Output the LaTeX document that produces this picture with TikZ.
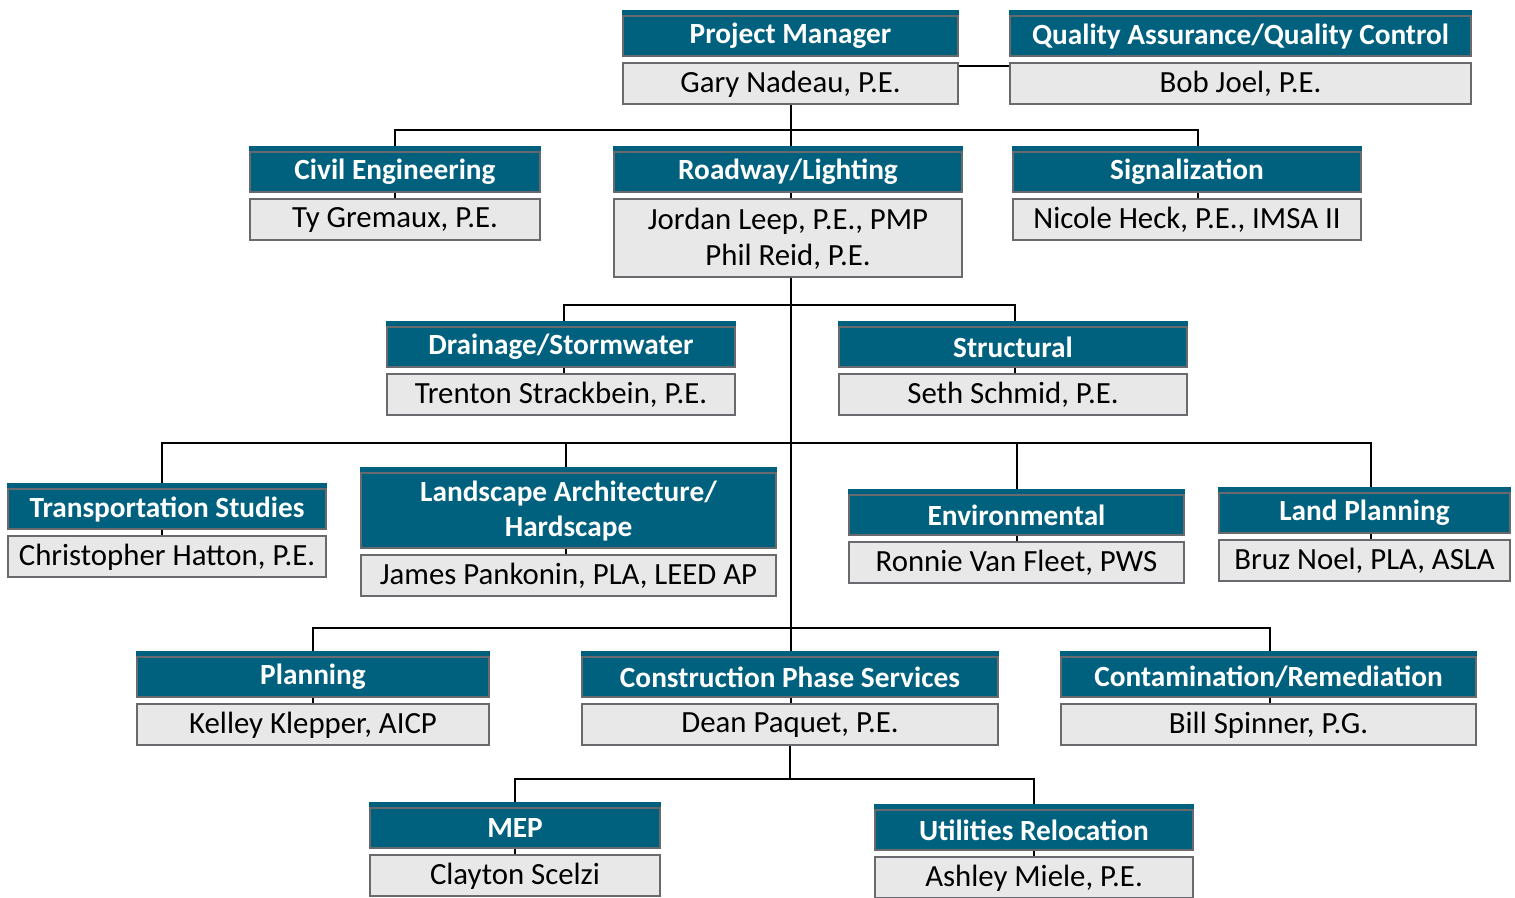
\documentclass[tikz,border=0pt]{standalone}
\usepackage{fontspec}
\setmainfont{Carlito}
\usetikzlibrary{positioning, backgrounds}
\definecolor{headteal}{RGB}{0,97,127}
\definecolor{boxgray}{RGB}{105,106,110}
\definecolor{namefill}{RGB}{232,232,232}
\tikzset{
  head/.style = {draw=boxgray, line width=2.2pt, fill=headteal, text=white,
    font=\bfseries\fontsize{29.3}{35}\selectfont, inner sep=0pt,
    minimum height=40pt, align=center, anchor=north},
  person/.style = {draw=boxgray, line width=2.2pt, fill=namefill,
    font=\fontsize{30.8}{36}\selectfont, inner sep=0pt,
    minimum height=41pt, align=center},
  link/.style = {draw=black, line width=2pt}
}

\begin{document}
\begin{tikzpicture}[x=1pt, y=-1pt]
    \useasboundingbox (0,0) rectangle (1515,897);

    % top row
    \node [head, minimum width=335] (pmh) at (790.5,15) {Project Manager};
    \node [person, minimum width=335, below=5pt of pmh] (pmp) {Gary Nadeau, P.E.};
    \node [head, minimum width=461] (qah) at (1240.5,15) {Quality Assurance/Quality Control};
    \node [person, minimum width=461, below=5pt of qah] (qap) {Bob Joel, P.E.};

    % second row
    \node [head, minimum width=290] (civh) at (395,151) {Civil Engineering};
    \node [person, minimum width=290, below=5pt of civh] (civp) {Ty Gremaux, P.E.};
    \node [head, minimum width=348] (rdh) at (788,151) {Roadway/Lighting};
    \node [person, minimum width=348, minimum height=78pt, below=5pt of rdh] (rdp) {Jordan Leep, P.E., PMP\\Phil Reid, P.E.};
    \node [head, minimum width=348] (sigh) at (1187,151) {Signalization};
    \node [person, minimum width=348, below=5pt of sigh] (sigp) {Nicole Heck, P.E., IMSA II};

    % third row
    \node [head, minimum width=348] (drh) at (561,326) {Drainage/Stormwater};
    \node [person, minimum width=348, below=5pt of drh] (drp) {Trenton Strackbein, P.E.};
    \node [head, minimum width=348] (sth) at (1013,326) {Structural};
    \node [person, minimum width=348, below=5pt of sth] (stp) {Seth Schmid, P.E.};

    % fourth row
    \node [head, minimum width=318] (tsh) at (167,488) {Transportation Studies};
    \node [person, minimum width=318, below=5pt of tsh] (tsp) {Christopher Hatton, P.E.};
    \node [head, minimum width=415, minimum height=75pt] (lah) at (568.5,472) {Landscape Architecture/\\Hardscape};
    \node [person, minimum width=415, below=5pt of lah] (lap) {James Pankonin, PLA, LEED AP};
    \node [head, minimum width=335] (envh) at (1016.5,494) {Environmental};
    \node [person, minimum width=335, below=5pt of envh] (envp) {Ronnie Van Fleet, PWS};
    \node [head, minimum width=291] (lph) at (1364.5,492) {Land Planning};
    \node [person, minimum width=291, below=5pt of lph] (lpp) {Bruz Noel, PLA, ASLA};

    % fifth row
    \node [head, minimum width=352] (plh) at (313,656) {Planning};
    \node [person, minimum width=352, below=5pt of plh] (plp) {Kelley Klepper, AICP};
    \node [head, minimum width=416] (cph) at (790,656) {Construction Phase Services};
    \node [person, minimum width=416, below=5pt of cph] (cpp) {Dean Paquet, P.E.};
    \node [head, minimum width=415] (crh) at (1268.5,656) {Contamination/Remediation};
    \node [person, minimum width=415, below=5pt of crh] (crp) {Bill Spinner, P.G.};

    % bottom row
    \node [head, minimum width=290] (meph) at (515,807) {MEP};
    \node [person, minimum width=290, below=5pt of meph] (mepp) {Clayton Scelzi};
    \node [head, minimum width=318] (urh) at (1034,809) {Utilities Relocation};
    \node [person, minimum width=318, below=5pt of urh] (urp) {Ashley Miele, P.E.};

    % teal strip on each header
    \foreach \n in {pmh,qah,civh,rdh,sigh,drh,sth,tsh,lah,envh,lph,plh,cph,crh,meph,urh}
        \fill [headteal] ([yshift=5pt]\n.north west) rectangle (\n.north east);

    % connectors
    \begin{scope}[on background layer]
        \coordinate (b1) at (0,130);
        \coordinate (b2) at (0,305);
        \coordinate (b3) at (0,443);
        \coordinate (b4) at (0,628);
        \coordinate (b5) at (0,779);
        \draw [link] ([yshift=-4pt]pmp.north east) -- ([yshift=-4pt]qap.north west);
        \draw [link] (pmp.south) -- (pmp.south |- cpp.north);
        \draw [link] (civp.north) -- (civp.north |- b1) -| ([xshift=11pt]sigp.north);
        \draw [link] ([xshift=3pt]drp.north) -- ([xshift=3pt]drp.north |- b2) -| ([xshift=2pt]stp.north);
        \draw [link] ([xshift=-5pt]tsp.north) -- ([xshift=-5pt]tsp.north |- b3) -| ([xshift=6.5pt]lpp.north);
        \draw [link] ([xshift=-2.5pt]lap.north) -- ([xshift=-2.5pt]lap.north |- b3);
        \draw [link] (envp.north) -- (envp.north |- b3);
        \draw [link] (plp.north) -- (plp.north |- b4) -| ([xshift=1.5pt]crp.north);
        \draw [link] (cpp.south) -- (cpp.south |- b5);
        \draw [link] (mepp.north) -- (mepp.north |- b5) -| (urp.north);
    \end{scope}
\end{tikzpicture}
\end{document}
